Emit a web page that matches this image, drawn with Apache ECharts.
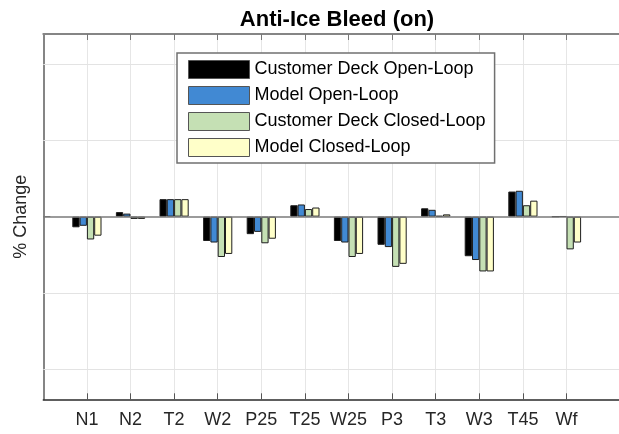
<!DOCTYPE html>
<html>
<head>
<meta charset="utf-8">
<script src="https://cdn.jsdelivr.net/npm/echarts@6/dist/echarts.min.js"></script>
<style>
  html, body { margin: 0; padding: 0; background: #fff; }
  #main { width: 619px; height: 434px; }
</style>
</head>
<body>
<div id="main"></div>
<script>
// categories along the x axis
var categories = ['N1', 'N2', 'T2', 'W2', 'P25', 'T25', 'W25', 'P3', 'T3', 'W3', 'T45', 'Wf'];
var seriesNames = ['Customer Deck Open-Loop', 'Model Open-Loop', 'Customer Deck Closed-Loop', 'Model Closed-Loop'];
var seriesColors = ['#000000', '#4189d3', '#c5e0b4', '#ffffc9'];

// % change (one grid step = 1)
var deckOpen    = [-0.14, 0.06, 0.23, -0.32, -0.23, 0.15, -0.32, -0.37, 0.11, -0.52, 0.33, 0.0];
var modelOpen   = [-0.12, 0.04, 0.23, -0.34, -0.20, 0.16, -0.34, -0.40, 0.09, -0.57, 0.34, 0.004];
var deckClosed  = [-0.30, -0.03, 0.23, -0.53, -0.35, 0.10, -0.53, -0.66, 0.01, -0.72, 0.15, -0.43];
var modelClosed = [-0.25, -0.03, 0.23, -0.49, -0.29, 0.12, -0.49, -0.62, 0.03, -0.72, 0.21, -0.34];

// horizontal grid lines
var yGrid = [-2, -1, 1, 2];
var yMin = -2.4, yMax = 2.4;

window.onload = function () {
    var myChart = echarts.init(document.getElementById('main'));

    // one empty slot before N1 and two after Wf (the right border falls off the picture)
    var axisCats = [''].concat(categories).concat(['', '']);
    function pad(arr) { return [null].concat(arr).concat([null, null]); }
    function inner(index) { return index >= 1 && index <= categories.length; }

    var allData = [deckOpen, modelOpen, deckClosed, modelClosed];
    var series = [];
    for (var i = 0; i < 4; i++) {
        series.push({
            name: seriesNames[i],
            type: 'bar',
            xAxisIndex: 0,
            data: pad(allData[i]),
            barWidth: 7.3,
            barGap: '0%',
            itemStyle: { color: seriesColors[i], borderColor: '#1e1e1e', borderWidth: 1 }
        });
    }
    // grid lines and zero line
    series[0].markLine = {
        silent: true,
        symbol: 'none',
        label: { show: false },
        data: yGrid.map(function (v) {
            return { yAxis: v, lineStyle: { color: '#e3e3e3', width: 1, type: 'solid' } };
        }).concat([{ yAxis: 0, lineStyle: { color: '#7a7a7a', width: 1.5, type: 'solid' } }])
    };

    var option = {
        animation: false,
        title: {
            text: 'Anti-Ice Bleed (on)',
            left: 332,
            textAlign: 'center',
            top: 4,
            textStyle: { fontFamily: 'Liberation Sans', fontSize: 22, fontWeight: 'bold', color: '#000' }
        },
        legend: {
            orient: 'vertical',
            zlevel: 1,
            left: 177,
            top: 53,
            padding: [7, 9, 6, 11],
            itemWidth: 61,
            itemHeight: 18,
            itemGap: 7,
            icon: 'rect',
            backgroundColor: '#fff',
            borderColor: '#707070',
            borderWidth: 1.5,
            borderRadius: 0,
            itemStyle: { borderColor: '#555', borderWidth: 1 },
            data: seriesNames,
            textStyle: { fontFamily: 'Liberation Sans', fontSize: 18, lineHeight: 18, color: '#000' }
        },
        grid: {
            left: 43.3,
            top: 34,
            bottom: 34.7,
            width: 610.4,
            outerBoundsMode: 'none'
        },
        xAxis: [
            {
                type: 'category',
                data: axisCats,
                boundaryGap: false,
                axisLine: { onZero: false, lineStyle: { color: '#2a2a2a', width: 1.5 } },
                axisTick: { show: true, inside: true, length: 6, interval: inner, lineStyle: { color: '#555', width: 1 } },
                axisLabel: {
                    interval: 0, margin: 12,
                    fontFamily: 'Liberation Sans', fontSize: 18, color: '#262626'
                },
                splitLine: { show: true, interval: inner, lineStyle: { color: '#e6e6e6', width: 1 } }
            },
            {
                type: 'category',
                position: 'top',
                data: axisCats,
                boundaryGap: false,
                axisLine: { onZero: false, lineStyle: { color: '#858585', width: 2 } },
                axisTick: { show: true, inside: true, length: 6, interval: inner, lineStyle: { color: '#777', width: 1 } },
                axisLabel: { show: false },
                splitLine: { show: false }
            }
        ],
        yAxis: {
            type: 'value',
            min: yMin,
            max: yMax,
            name: '% Change',
            nameLocation: 'middle',
            nameGap: 13,
            nameTextStyle: { fontFamily: 'Liberation Sans', fontSize: 18, color: '#262626' },
            axisLine: { show: true, lineStyle: { color: '#858585', width: 2 } },
            axisTick: { show: true, inside: true, length: 7, customValues: [-2, -1, 0, 1, 2], lineStyle: { color: '#777' } },
            axisLabel: { show: false },
            splitLine: { show: false }
        },
        series: series
    };

    myChart.setOption(option);
};
</script>
</body>
</html>
